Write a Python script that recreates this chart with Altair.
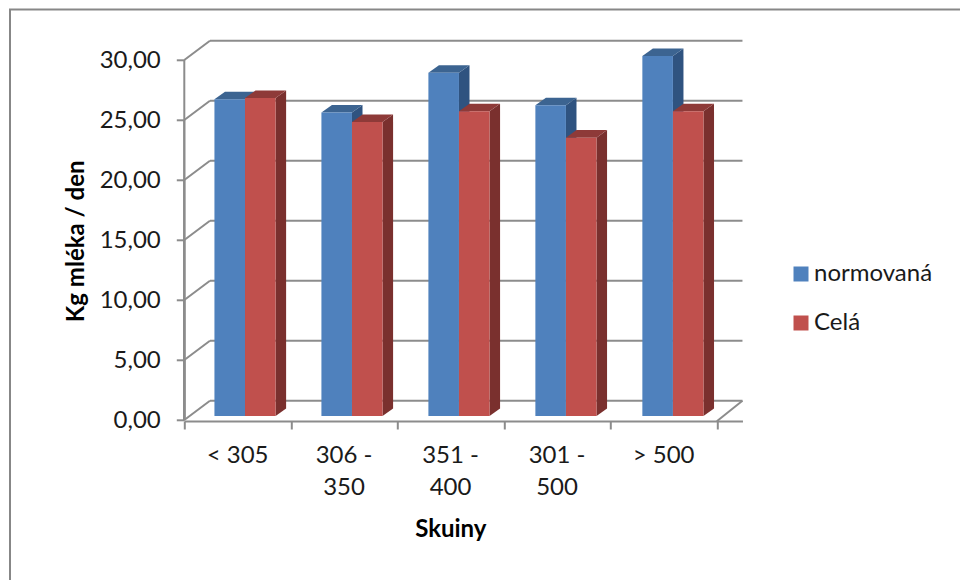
import altair as alt
import pandas as pd

# Milk yield per cow group, shown as Excel-style pseudo-3D columns
CATEGORIES = ["< 305", "306 -\n350", "351 -\n400", "301 -\n500", "> 500"]
SERIES = ["normovaná", "Celá"]
NORMOVANA = [26.4, 25.3, 28.6, 25.9, 30.0]
CELA = [26.5, 24.5, 25.4, 23.2, 25.4]
Y_TICKS = [0, 5, 10, 15, 20, 25, 30]
X_TICKS = [0, 1, 2, 3, 4, 5]

FRONT = {"normovaná": "#4F81BD", "Celá": "#C0504D"}
SIDE = {"normovaná": "#2F5380", "Celá": "#7A302E"}
TOP = {"normovaná": "#3C6491", "Celá": "#8E3A38"}
GREY = "#8C8C8C"
FONT = "Lato"
TEXT = "#1A1A1A"
LABEL_SIZE = 24

# Projection of the chart depth, in axis units
WALL_DX, WALL_DY = 0.241, 1.6
BAR_DX, BAR_DY = 0.099, 0.63
BAR_LIFT = 0.33  # bars stand slightly behind the front edge of the floor
BAR_W = 0.287
BAR_START = 0.283
BAR_STEP = 1.0045

UNIT_PX = 106.5
VALUE_PX = 12.0
x_end = 5 + WALL_DX
y_top = 30 + WALL_DY
PLOT_W = x_end * UNIT_PX
PLOT_H = y_top * VALUE_PX
LEFT, TOP_PAD = 184.3, 40.8

x_scale = alt.Scale(domain=[0, x_end], nice=False, zero=False)
y_scale = alt.Scale(domain=[0, y_top], nice=False, zero=False)


def X(field, **kw):
    return alt.X(field, type="quantitative", scale=x_scale, title=None, axis=None, **kw)


def Y(field, **kw):
    return alt.Y(field, type="quantitative", scale=y_scale, title=None, axis=None, stack=None, **kw)


# Build one row per bar edge for every face of the boxes
front_rows, side_rows, top_rows = [], [], []
for s_i, (name, values) in enumerate(zip(SERIES, [NORMOVANA, CELA])):
    for c_i, v in enumerate(values):
        x0 = c_i * BAR_STEP + BAR_START + s_i * BAR_W
        x1 = x0 + BAR_W
        key = f"{name}-{c_i}"
        front_rows.append(dict(series=name, x0=x0, x1=x1, base=BAR_LIFT, value=v + BAR_LIFT))
        side_rows += [
            dict(series=name, key=key, x=x1, low=BAR_LIFT, high=v + BAR_LIFT),
            dict(series=name, key=key, x=x1 + BAR_DX, low=BAR_LIFT + BAR_DY, high=v + BAR_LIFT + BAR_DY),
        ]
        top_rows += [
            dict(series=name, key=key, y=v + BAR_LIFT, left=x0, right=x1),
            dict(series=name, key=key, y=v + BAR_LIFT + BAR_DY, left=x0 + BAR_DX, right=x1 + BAR_DX),
        ]
front = pd.DataFrame(front_rows)
side = pd.DataFrame(side_rows)
top = pd.DataFrame(top_rows)

# Back wall gridlines and the slanted lines joining them to the value axis
grid = pd.DataFrame([dict(x0=WALL_DX, x1=x_end, y=t + WALL_DY) for t in Y_TICKS])
slants = []
for t in Y_TICKS:
    slants += [dict(key=f"l{t}", x=0, y=t), dict(key=f"l{t}", x=WALL_DX, y=t + WALL_DY)]
slants += [dict(key="r", x=5, y=-0.1), dict(key="r", x=x_end, y=WALL_DY)]
slants = pd.DataFrame(slants)

axis_style = dict(
    grid=False, tickColor=GREY, tickWidth=2, tickSize=8,
    labelFont=FONT, labelFontSize=LABEL_SIZE, labelColor=TEXT,
    titleFont=FONT, titleFontSize=24, titleFontWeight="bold", titleColor="#000000",
)

y_axis_layer = alt.Chart(pd.DataFrame({"v": Y_TICKS})).mark_rule(color=GREY, strokeWidth=2).encode(
    x=alt.value(0),
    y=alt.Y(
        "v:Q", scale=y_scale, title="Kg mléka / den",
        axis=alt.Axis(
            values=Y_TICKS, labelExpr="replace(format(datum.value, '.2f'), '.', ',')",
            domain=False, labelPadding=16, titleX=-96, titleY=200, **axis_style,
        ),
    ),
    y2=alt.Y2(datum=0),
)
x_axis_layer = alt.Chart(pd.DataFrame({"v": X_TICKS})).mark_rule(color=GREY, strokeWidth=2).encode(
    x=alt.X(
        "v:Q", scale=x_scale, title="Skuiny",
        axis=alt.Axis(
            values=X_TICKS, labels=False, offset=1, domain=True, domainColor=GREY, domainWidth=2,
            titleX=266, titleY=96, **axis_style,
        ),
    ),
    y=alt.value(PLOT_H),
    y2=alt.value(PLOT_H),
)

grid_layer = alt.Chart(grid).mark_rule(color=GREY, strokeWidth=2).encode(
    x=X("x0"), x2="x1", y=Y("y")
)
slant_layer = alt.Chart(slants).mark_line(color=GREY, strokeWidth=2).encode(
    x=X("x"), y=Y("y"), detail="key:N"
)

# Chart frame, running off the right and bottom of the page
frame = [
    alt.Chart(pd.DataFrame({"a": [0]})).mark_rule(color="#878787", strokeWidth=2, clip=False).encode(
        x=alt.value(10 - LEFT), y=alt.value(9 - TOP_PAD), y2=alt.value(580 - TOP_PAD)
    ),
    alt.Chart(pd.DataFrame({"a": [0]})).mark_rule(color="#878787", strokeWidth=2, clip=False).encode(
        x=alt.value(9 - LEFT), x2=alt.value(960 - LEFT), y=alt.value(9.5 - TOP_PAD)
    ),
]

box_layers = []
for name in SERIES:
    box_layers.append(
        alt.Chart(side[side.series == name]).mark_area(color=SIDE[name]).encode(
            x=X("x"), y=Y("low"), y2="high", detail="key:N"
        )
    )
    box_layers.append(
        alt.Chart(top[top.series == name]).mark_area(color=TOP[name], orient="horizontal").encode(
            y=Y("y"), x=X("left"), x2="right", detail="key:N"
        )
    )
    box_layers.append(
        alt.Chart(front[front.series == name]).mark_rect().encode(
            x=X("x0"), x2="x1", y=Y("base"), y2="value",
            color=alt.Color(
                "series:N",
                scale=alt.Scale(domain=SERIES, range=[FRONT[s] for s in SERIES]),
                title=None,
                legend=alt.Legend(
                    orient="none", legendX=789 - LEFT, legendY=262 - TOP_PAD,
                    symbolType="square", symbolSize=225, symbolStrokeWidth=0,
                    labelFont=FONT, labelFontSize=LABEL_SIZE, labelColor=TEXT,
                    rowPadding=25, labelOffset=1, values=SERIES,
                ),
            ),
        )
    )

labels = pd.DataFrame({"label": CATEGORIES, "pos": [i + 0.5 for i in range(len(CATEGORIES))]})
label_layer = alt.Chart(labels).mark_text(
    font=FONT, fontSize=LABEL_SIZE, color=TEXT, lineBreak="\n", lineHeight=32, baseline="top", clip=False
).encode(x=X("pos"), y=alt.value(444 - TOP_PAD), text="label:N")

chart = alt.layer(
    *frame, grid_layer, slant_layer, y_axis_layer, x_axis_layer, *box_layers, label_layer
).resolve_axis(x="independent", y="independent").properties(
    width=PLOT_W, height=PLOT_H,
    padding={"left": LEFT, "top": TOP_PAD, "right": 960 - LEFT - PLOT_W, "bottom": 580 - TOP_PAD - PLOT_H},
    autosize=alt.AutoSizeParams(type="none"),
    background="white",
).configure_view(stroke=None)

chart.save("out.html", embed_options={"renderer": "svg", "actions": False})
